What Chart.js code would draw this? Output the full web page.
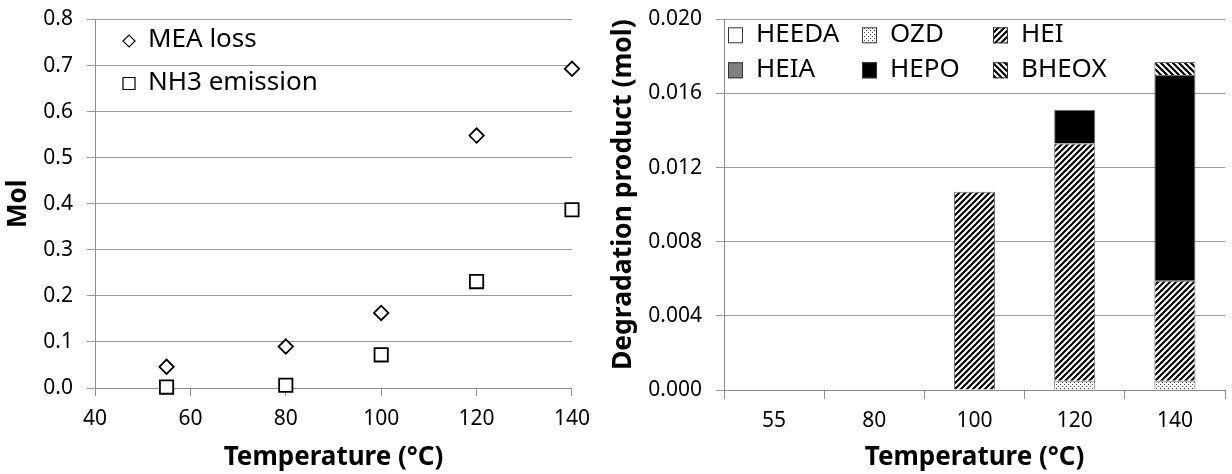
<!DOCTYPE html>
<html>
<head>
<meta charset="utf-8">
<script src="https://cdn.jsdelivr.net/npm/chart.js"></script>
<style>
  html, body { margin: 0; padding: 0; background: #fff; }
  body { width: 1232px; height: 474px; position: relative; overflow: hidden; }
  #left { position: absolute; left: 0; top: 0; }
  #right { position: absolute; left: 600px; top: 0; }
</style>
</head>
<body>
<canvas id="left" width="600" height="474"></canvas>
<canvas id="right" width="632" height="474"></canvas>
<script>
// ---- Data (left panel: scatter) ----
const temps = [55, 80, 100, 120, 140];
const meaLoss = [0.046, 0.090, 0.163, 0.548, 0.693];
const nh3Emission = [0.002, 0.006, 0.072, 0.231, 0.387];

// ---- Data (right panel: stacked bars) ----
const barCategories = ['55', '80', '100', '120', '140'];
const heeda = [0, 0, 0, 0, 0];
const ozd = [0, 0, 0, 0.0005, 0.0005];
const hei = [0, 0, 0.0107, 0.0128, 0.0054];
const heia = [0, 0, 0, 0, 0];
const hepo = [0, 0, 0, 0.0018, 0.0111];
const bheox = [0, 0, 0, 0, 0.0007];

const leftYTicks = ['0.0','0.1','0.2','0.3','0.4','0.5','0.6','0.7','0.8'];
const rightYTicks = ['0.000','0.004','0.008','0.012','0.016','0.020'];

Chart.defaults.font.family = '"Noto Sans", "Open Sans", sans-serif';
Chart.defaults.color = '#000';

const GRID = '#9a9a9a';
const AXIS = '#8c8c8c';

function hatch(dir) {
  const s = 6;
  const c = document.createElement('canvas');
  c.width = s; c.height = s;
  const g = c.getContext('2d');
  g.fillStyle = '#fff'; g.fillRect(0, 0, s, s);
  g.strokeStyle = '#000'; g.lineWidth = 2.1;
  g.beginPath();
  if (dir > 0) {
    g.moveTo(-1, s + 1); g.lineTo(s + 1, -1);
    g.moveTo(-2, 2); g.lineTo(2, -2);
    g.moveTo(s - 2, s + 2); g.lineTo(s + 2, s - 2);
  } else {
    g.moveTo(-1, -1); g.lineTo(s + 1, s + 1);
    g.moveTo(s - 2, -2); g.lineTo(s + 2, 2);
    g.moveTo(-2, s - 2); g.lineTo(2, s + 2);
  }
  g.stroke();
  return g.createPattern(c, 'repeat');
}
function dots() {
  const c = document.createElement('canvas');
  c.width = 4; c.height = 4;
  const g = c.getContext('2d');
  g.fillStyle = '#fff'; g.fillRect(0, 0, 4, 4);
  g.fillStyle = '#444';
  g.fillRect(0, 0, 1, 1); g.fillRect(2, 2, 1, 1);
  return g.createPattern(c, 'repeat');
}

const gridLegend = {
  id: 'gridLegend',
  afterDraw(chart, args, opts) {
    if (!opts || !opts.items) return;
    const ctx = chart.ctx, a = chart.chartArea;
    ctx.save();
    ctx.font = opts.font;
    ctx.textBaseline = 'middle';
    ctx.textAlign = 'left';
    chart.data.datasets.forEach((ds, i) => {
      const p = opts.items[i];
      if (!p) return;
      const x = a.left + p[0], y = a.top + p[1];
      if (opts.kind === 'point') {
        ctx.strokeStyle = ds.borderColor;
        ctx.fillStyle = ds.backgroundColor;
        ctx.lineWidth = opts.markerLine;
        Chart.helpers.drawPoint(ctx, {pointStyle: ds.pointStyle, radius: opts.radius[i], borderWidth: opts.markerLine, rotation: 0}, x, y);
        ctx.fillStyle = '#000';
        ctx.fillText(ds.label, x + opts.textGap, y + opts.textDy);
      } else {
        const w = opts.box[0], h = opts.box[1];
        ctx.fillStyle = ds.backgroundColor;
        ctx.fillRect(x, y - h / 2, w, h);
        ctx.strokeStyle = '#333';
        ctx.lineWidth = 1;
        ctx.strokeRect(x + 0.5, y - h / 2 + 0.5, w - 1, h - 1);
        ctx.fillStyle = '#000';
        ctx.fillText(ds.label, x + opts.textGap, y + opts.textDy);
      }
    });
    ctx.restore();
  }
};

// ---------- Left chart ----------
new Chart(document.getElementById('left'), {
  type: 'scatter',
  data: {
    datasets: [
      {
        label: 'MEA loss',
        data: temps.map((t, i) => ({x: t, y: meaLoss[i]})),
        pointStyle: 'rectRot', pointRadius: 7.2, pointHoverRadius: 7.2,
        borderColor: '#000', backgroundColor: '#fff', borderWidth: 1.8, clip: false
      },
      {
        label: 'NH3 emission',
        data: temps.map((t, i) => ({x: t, y: nh3Emission[i]})),
        pointStyle: 'rect', pointRadius: 9.4, pointHoverRadius: 9.4,
        borderColor: '#000', backgroundColor: '#fff', borderWidth: 1.8, clip: false
      }
    ]
  },
  options: {
    responsive: false,
    animation: false,
    events: [],
    layout: { padding: { left: 0, top: 19.5, right: 26.5, bottom: 0 } },
    plugins: {
      legend: { display: false },
      tooltip: { enabled: false },
      gridLegend: {
        kind: 'point', font: '26px "Noto Sans", sans-serif',
        items: [[34, 21.5], [34, 64]], radius: [6, 8.5], markerLine: 1.2,
        textGap: 19, textDy: -1
      }
    },
    scales: {
      x: {
        type: 'linear', min: 40, max: 140,
        ticks: { stepSize: 20, font: { size: 21 }, color: '#000', padding: 10, maxRotation: 0 },
        grid: { drawOnChartArea: false, drawTicks: true, tickLength: 8, color: AXIS },
        border: { color: AXIS },
        title: { display: true, text: 'Temperature (°C)', font: { size: 26, weight: 'bold' }, color: '#000', padding: { top: 0, bottom: 1 } },
        afterFit(s) { s.height = 86; }
      },
      y: {
        min: 0, max: 0.8,
        ticks: { stepSize: 0.1, font: { size: 21 }, color: '#000', padding: 14,
          callback: (v) => leftYTicks[Math.round(v * 10)] },
        grid: { color: GRID, tickLength: 8 },
        border: { color: AXIS },
        title: { display: true, text: 'Mol', font: { size: 26, weight: 'bold' }, color: '#000', padding: { top: 3, bottom: 0 } },
        afterFit(s) { s.width = 95; s.paddingTop = 0; s.paddingBottom = 0; }
      }
    }
  },
  plugins: [gridLegend]
});

// ---------- Right chart ----------
const common = { borderColor: '#6e6e6e', borderWidth: 1, barPercentage: 0.41, categoryPercentage: 1 };
new Chart(document.getElementById('right'), {
  type: 'bar',
  data: {
    labels: barCategories,
    datasets: [
      Object.assign({ label: 'HEEDA', data: heeda, backgroundColor: '#fff' }, common),
      Object.assign({ label: 'OZD', data: ozd, backgroundColor: dots() }, common),
      Object.assign({ label: 'HEI', data: hei, backgroundColor: hatch(1) }, common),
      Object.assign({ label: 'HEIA', data: heia, backgroundColor: '#808080' }, common),
      Object.assign({ label: 'HEPO', data: hepo, backgroundColor: '#000' }, common),
      Object.assign({ label: 'BHEOX', data: bheox, backgroundColor: hatch(-1) }, common)
    ]
  },
  options: {
    responsive: false,
    animation: false,
    events: [],
    layout: { padding: { left: 0, top: 19.3, right: 7, bottom: 0 } },
    plugins: {
      legend: { display: false },
      tooltip: { enabled: false },
      gridLegend: {
        kind: 'box', font: '26px "Noto Sans", sans-serif',
        items: [[4, 16], [138, 16], [269, 16], [4, 51], [138, 51], [269, 51]],
        box: [15, 16], textGap: 28, textDy: -1
      }
    },
    scales: {
      x: {
        stacked: true,
        ticks: { font: { size: 21 }, color: '#000', padding: 9, maxRotation: 0 },
        grid: { offset: true, drawOnChartArea: false, drawTicks: true, tickLength: 9, color: AXIS },
        border: { color: AXIS },
        title: { display: true, text: 'Temperature (°C)', font: { size: 26, weight: 'bold' }, color: '#000', padding: { top: 0, bottom: 1 } },
        afterFit(s) { s.height = 84; }
      },
      y: {
        stacked: true, min: 0, max: 0.02,
        ticks: { stepSize: 0.004, font: { size: 21 }, color: '#000', padding: 14,
          callback: (v) => rightYTicks[Math.round(v / 0.004)] },
        grid: { color: GRID, tickLength: 8 },
        border: { color: AXIS },
        title: { display: true, text: 'Degradation product (mol)', align: 'end', font: { size: 26.5, weight: 'bold' }, color: '#000', padding: { top: 8, bottom: 0 } },
        afterFit(s) { s.width = 124; s.paddingTop = 0; s.paddingBottom = 0; }
      }
    }
  },
  plugins: [gridLegend]
});
</script>
</body>
</html>
